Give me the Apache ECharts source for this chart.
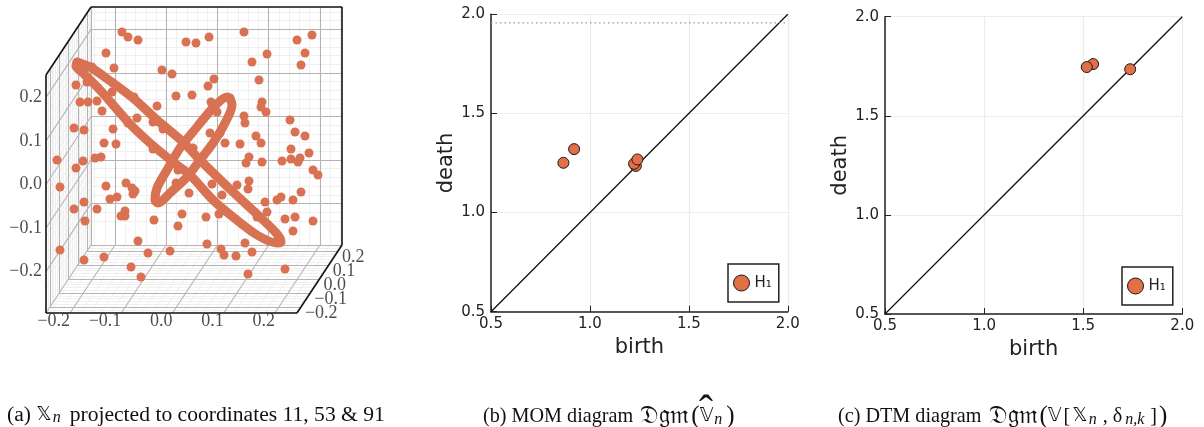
<!DOCTYPE html>
<html><head><meta charset="utf-8">
<style>html,body{margin:0;padding:0;background:#fff}#c{width:1204px;height:427px}</style>
<script src="https://cdn.jsdelivr.net/npm/echarts@6/dist/echarts.min.js"></script>
</head><body><div id="c"></div>
<script>
// ---- panel (a): values in the projection plane of the 3D view (hidden axes)
const cloudPoints = [[-.192,.166],[-.180,.156],[-.160,.150],[-.064,.146],[-.044,.144],[-.224,.124],[-.208,.094],[-.252,.096],[-.112,.090],[-.092,.082],[-.284,.060],[-.262,.066],[-.084,.038],[-.052,.040],[-.212,.046],[-.168,.036],[-.276,.026],[-.260,.026],[-.242,.028],[-.122,.018],[-.232,.008],[-.162,-.006],[-.130,-.014],[-.180,-.016],[-.288,-.026],[-.268,-.030],[-.210,-.028],[-.228,-.056],[-.204,-.058],[-.130,-.068],[-.322,-.090],[-.246,-.086],[-.234,-.084],[-.270,-.092],[-.284,-.106],[-.050,-.066],[-.110,-.028],
[-.018,.156],[.052,.166],[.158,.150],[.188,.160],[.174,.124],[.098,.122],[.068,.106],[.166,.100],[-.008,.072],[-.020,.058],[.082,.070],[-.014,.026],[-.002,.006],[.088,.026],[.086,.016],[.096,.006],[.052,-.002],[.054,-.016],[.144,-.010],[.154,-.034],[.174,-.042],[-.016,-.036],[.004,-.036],[.076,-.042],[.086,-.056],[.014,-.056],[.044,-.058],[.146,-.068],[.182,-.076],[.062,-.084],[.056,-.096],[.088,-.094],[.128,-.092],[.146,-.088],[.160,-.094],[.164,-.086],[.190,-.110],[.200,-.120],
[-.316,-.144],[-.224,-.142],[-.184,-.136],[-.172,-.146],[-.166,-.152],[-.170,-.158],[-.216,-.168],[-.202,-.164],[-.268,-.174],[-.288,-.188],[-.242,-.188],[-.186,-.192],[-.194,-.202],[-.186,-.202],[-.266,-.212],[-.128,-.210],[-.072,-.198],[-.080,-.222],[-.058,-.156],[-.160,-.252],[-.316,-.270],[-.140,-.276],[-.096,-.272],[-.268,-.290],[-.228,-.284],[-.174,-.304],[-.154,-.324],[-.080,-.110],[-.084,-.136],
[-.012,-.138],[.038,-.140],[.062,-.132],[.060,-.148],[.008,-.160],[-.024,-.204],[.002,-.198],[.094,-.174],[.118,-.170],[.126,-.164],[.166,-.154],[.150,-.170],[.098,-.194],[.078,-.204],[.134,-.208],[.154,-.204],[.190,-.212],[.150,-.232],[.054,-.256],[-.022,-.258],[.006,-.268],[.012,-.280],[.036,-.282],[.068,-.274],[.060,-.318],[.134,-.308]];
const bigRing = [[-.282,.106],[-.256,.096],[-.210,.064],[-.170,.034],[-.122,-.010],[-.070,-.054],[-.036,-.090],[.030,-.154],[.084,-.204],[.118,-.238],[.126,-.254],[.118,-.256],[.078,-.240],[.030,-.204],[-.010,-.170],[-.056,-.120],[-.090,-.094],[-.136,-.056],[-.176,-.018],[-.236,.050],[-.270,.084],[-.284,.098],[-.282,.106]];
const smallRing = [[.024,.034],[.028,.020],[.014,-.016],[-.010,-.056],[-.036,-.090],[-.062,-.124],[-.096,-.156],[-.120,-.176],[-.126,-.170],[-.122,-.146],[-.102,-.110],[-.076,-.066],[-.042,-.024],[-.010,.014],[.018,.036],[.024,.034]];
const cubeTicks = [-0.2,-0.1,0.0,0.1,0.2];
const minorTicks = [-0.24,-0.22,-0.18,-0.16,-0.14,-0.12,-0.08,-0.06,-0.04,-0.02,0.02,0.04,0.06,0.08,0.12,0.14,0.16,0.18,0.22,0.24];

// ---- panels (b), (c)
const diagonal = [[0.5,0.5],[2.0,2.0]];
const momBirth = [0.866,0.92,1.232,1.223,1.24];
const momDeath = [1.251,1.32,1.235,1.246,1.268];
const infinityLevel = 1.957;
const dtmBirth = [1.737,1.55,1.518];
const dtmDeath = [1.735,1.761,1.746];
const homologyName = 'H₁';

const DOT='#D87253', MARK='#E26F46', SER='"Liberation Serif","DejaVu Serif",serif', SANS='"DejaVu Sans",sans-serif';
const MATH='"DejaVu Sans","DejaVu Serif",serif';

// oblique projection of the cube, a,b,c = fractions along width, depth, height
function frac(a,b,c){const px=46+251*a+45*b,py=313-238*c-68*b;return [(px-218)/500,(115-py)/500];}
const A=x=>0.504+x*2.04, B=y=>0.5+y*2.06, C=z=>0.54+z*1.83;
function seg(p,q){return {coords:[p,q]};}
function wallLines(ts){
  const out=[];
  ts.forEach(t=>{
    const a=A(t),b=B(t),c=C(t);
    if(a>=0&&a<=1){out.push(seg(frac(a,1,0),frac(a,1,1)));out.push(seg(frac(a,0,0),frac(a,1,0)));}
    if(b>=0&&b<=1){out.push(seg(frac(0,b,0),frac(1,b,0)));out.push(seg(frac(0,b,0),frac(0,b,1)));}
    if(c>=0&&c<=1){out.push(seg(frac(0,1,c),frac(1,1,c)));out.push(seg(frac(0,0,c),frac(0,1,c)));}
  });
  return out;
}
const innerEdges=[seg(frac(0,1,0),frac(0,1,1)),seg(frac(0,1,0),frac(1,1,0)),seg(frac(0,0,0),frac(0,1,0))];
const boxEdges=[seg(frac(0,0,0),frac(0,0,1)),seg(frac(0,0,0),frac(1,0,0)),seg(frac(1,0,0),frac(1,1,0)),seg(frac(1,1,0),frac(1,1,1)),seg(frac(0,1,1),frac(1,1,1)),seg(frac(0,0,1),frac(0,1,1))];
const off=(p,dx,dy)=>[p[0]+dx/500,p[1]-dy/500];
const fmt=t=>(t<0?'\u2212':'')+Math.abs(t).toFixed(1);
function tickSeries(points,align){
  return {type:'scatter',xAxisIndex:0,yAxisIndex:0,symbolSize:1,itemStyle:{color:'rgba(0,0,0,0)'},silent:true,clip:false,z:6,
    data:points.map(p=>({value:p.v,name:p.t})),
    label:{show:true,position:'inside',align:align,verticalAlign:'middle',color:'#222',fontFamily:SER,fontSize:18,formatter:d=>d.name}};
}
const zLabels=cubeTicks.map(t=>({t:fmt(t),v:off(frac(0,0,C(t)),-4,0)}));
const xLabels=cubeTicks.map(t=>({t:fmt(t),v:off(frac(A(t),0,0),0,8)}));
const yLabels=cubeTicks.map(t=>({t:fmt(t),v:off(frac(1,B(t),0),4,6)}));

function diagAxis(grid,isX){
  return {type:'value',gridIndex:grid,min:0.5,max:2.0,interval:0.5,name:isX?'birth':'death',nameLocation:'middle',
    nameGap:isX?24:34,nameTextStyle:{fontFamily:SANS,fontSize:21,color:'#222'},
    axisLine:{show:true,onZero:false,lineStyle:{color:'#222',width:1.5}},
    axisTick:{show:true,inside:true,length:6,lineStyle:{color:'#222',width:1}},
    axisLabel:{fontFamily:SANS,fontSize:15,color:'#222',margin:isX?5:6,formatter:v=>v.toFixed(1)},
    splitLine:{show:true,lineStyle:{color:'#ececec',width:1.2}}};
}
const pts=(xs,ys)=>xs.map((x,i)=>[x,ys[i]]);
function dots(g,data){return {type:'scatter',name:homologyName,xAxisIndex:g,yAxisIndex:g,data,symbolSize:11,z:5,
  itemStyle:{color:MARK,borderColor:'#1a1a1a',borderWidth:1,opacity:1}};}
function diagLine(g){return {type:'line',xAxisIndex:g,yAxisIndex:g,data:diagonal,showSymbol:false,symbol:'none',silent:true,z:3,lineStyle:{color:'#111',width:1.3}};}
function legendAt(left,top){return {left,top,orient:'vertical',data:[homologyName],icon:'circle',itemWidth:16,itemHeight:16,
  padding:[10.5,7,10.5,5],borderColor:'#222',borderWidth:1.5,backgroundColor:'#fff',selectedMode:false,
  itemStyle:{color:MARK,borderColor:'#1a1a1a',borderWidth:1},textStyle:{fontFamily:SANS,fontSize:15,color:'#222'},z:8};}
const W='normal';
const capRich={t:{fontFamily:SER,fontSize:20.2,color:'#111',fontWeight:W},
  w:{fontFamily:SER,fontSize:21.6,color:'#111',fontWeight:W},
  m:{fontFamily:MATH,fontSize:19,color:'#111',fontWeight:W},
  f:{fontFamily:MATH,fontSize:25,color:'#111',fontWeight:W,padding:[0,2,0,2]},
  i:{fontFamily:SER,fontSize:16,fontStyle:'italic',color:'#111',fontWeight:W,padding:[6,0,0,0]},
  j:{fontFamily:SER,fontSize:16,fontStyle:'italic',color:'#111',fontWeight:W,padding:[6,4,0,1]},
  n:{fontFamily:SER,fontSize:16,fontStyle:'italic',color:'#111',fontWeight:W,padding:[6,9,0,1]},
  s:{fontFamily:SER,fontSize:20.2,color:'#111',fontWeight:W,padding:[0,2,0,2]},
  p:{fontFamily:SER,fontSize:25,color:'#111',fontWeight:W},
  h:{fontFamily:SER,fontSize:42,color:'#111',fontWeight:W}};
function cap(text,left,top){return {text,left,top:top===undefined?404:top,padding:0,textStyle:{fontWeight:W,rich:capRich}};}

const option={animation:false,backgroundColor:'#fff',
  title:[cap('{w|(a) }{m|𝕏}{n|n}{w|projected to coordinates 11, 53 & 91}',7),
         cap('{t|(b) MOM diagram }{f|𝔇𝔤𝔪}{p|(}{m|𝕍}{j|n}{p|)}',483),
         cap('{h|ˆ}',699,392),
         cap('{t|(c) DTM diagram }{f|𝔇𝔤𝔪}{p|(}{m|𝕍}{s|[}{m|𝕏}{j|n}{s|, δ}{j|n,k}{s|]}{p|)}',838)],
  legend:[legendAt(728,264),legendAt(1122,267)],
  grid:[{left:8,width:400,top:0,height:340},
        {left:491,width:296.8,top:14.3,height:297.4},
        {left:885,width:297.3,top:16.7,height:297.3}],
  xAxis:[{type:'value',gridIndex:0,min:-0.42,max:0.38,show:false},diagAxis(1,true),diagAxis(2,true)],
  yAxis:[{type:'value',gridIndex:0,min:-0.45,max:0.23,show:false},diagAxis(1,false),diagAxis(2,false)],
  series:[
    {type:'lines',coordinateSystem:'cartesian2d',xAxisIndex:0,yAxisIndex:0,silent:true,z:1,data:wallLines(minorTicks),lineStyle:{color:'#f0f0f0',width:1,opacity:1}},
    {type:'lines',coordinateSystem:'cartesian2d',xAxisIndex:0,yAxisIndex:0,silent:true,z:2,data:wallLines(cubeTicks),lineStyle:{color:'#b4b4b4',width:1.1,opacity:1}},
    {type:'lines',coordinateSystem:'cartesian2d',xAxisIndex:0,yAxisIndex:0,silent:true,z:2,data:innerEdges,lineStyle:{color:'#b4b4b4',width:1.1,opacity:1}},
    {type:'lines',coordinateSystem:'cartesian2d',xAxisIndex:0,yAxisIndex:0,silent:true,z:3,data:boxEdges,lineStyle:{color:'#111',width:1.6,opacity:1}},
    {type:'scatter',xAxisIndex:0,yAxisIndex:0,data:cloudPoints,symbolSize:9,silent:true,z:4,itemStyle:{color:DOT,opacity:1}},
    {type:'line',xAxisIndex:0,yAxisIndex:0,data:bigRing,smooth:0.3,showSymbol:false,symbol:'none',silent:true,z:5,lineStyle:{color:DOT,width:9,cap:'round',join:'round'}},
    {type:'line',xAxisIndex:0,yAxisIndex:0,data:smallRing,smooth:0.3,showSymbol:false,symbol:'none',silent:true,z:5,lineStyle:{color:DOT,width:9,cap:'round',join:'round'}},
    tickSeries(zLabels,'right'),tickSeries(xLabels,'right'),tickSeries(yLabels,'left'),
    diagLine(1),
    {type:'line',xAxisIndex:1,yAxisIndex:1,data:[[0.5,infinityLevel],[2.0,infinityLevel]],showSymbol:false,symbol:'none',silent:true,z:3,lineStyle:{color:'#999',width:1.4,type:[1.5,3]}},
    dots(1,pts(momBirth,momDeath)),
    diagLine(2),
    dots(2,pts(dtmBirth,dtmDeath))
  ]};
echarts.init(document.getElementById('c'),null,{renderer:'canvas'}).setOption(option);
</script></body></html>
